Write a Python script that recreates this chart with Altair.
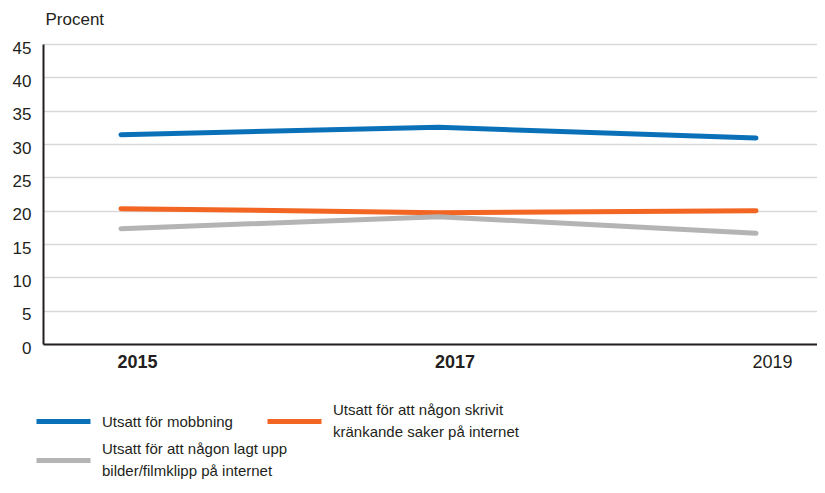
import altair as alt
import pandas as pd

years = [2015, 2017, 2019]
mobbning = [31.4, 32.5, 30.9]
skrivit = [20.3, 19.7, 20.0]
lagt_upp = [17.3, 19.1, 16.6]

series_names = [
    "Utsatt för mobbning",
    "Utsatt för att någon skrivit|kränkande saker på internet",
    "Utsatt för att någon lagt upp|bilder/filmklipp på internet",
]
series_colors = ["#0a71b9", "#f26522", "#b4b4b4"]
y_ticks = [0, 5, 10, 15, 20, 25, 30, 35, 40, 45]

rows = []
for name, vals in zip(series_names, [mobbning, skrivit, lagt_upp]):
    for yr, v in zip(years, vals):
        rows.append({"year": yr, "value": v, "series": name})
df = pd.DataFrame(rows)

FONT = "Liberation Sans"
TXT = "#231f20"

chart = (
    alt.Chart(df)
    .mark_line(strokeWidth=5, strokeCap="round", strokeJoin="round")
    .encode(
        x=alt.X(
            "year:Q",
            scale=alt.Scale(domain=[2014.509, 2019.384], nice=False, zero=False),
            axis=alt.Axis(
                values=years,
                format="d",
                title=None,
                grid=False,
                ticks=False,
                labelFontSize=18,
                labelColor=TXT,
                labelFont=FONT,
                labelOffset=16,
                labelPadding=9,
                labelFlush=False,
                labelFontWeight=alt.expr("datum.value == 2019 ? 'normal' : 'bold'"),
                domainColor=TXT,
                domainWidth=2,
            ),
        ),
        y=alt.Y(
            "value:Q",
            scale=alt.Scale(domain=[0, 45], nice=False),
            axis=alt.Axis(
                values=y_ticks,
                title="Procent",
                titleAngle=0,
                titleAlign="left",
                titleBaseline="middle",
                titleX=2,
                titleY=-25,
                titleFontSize=17,
                titleFontWeight="normal",
                titleColor=TXT,
                titleFont=FONT,
                ticks=False,
                labelFontSize=17,
                labelColor=TXT,
                labelFont=FONT,
                labelPadding=12,
                labelOffset=4,
                labelBaseline="middle",
                gridColor="#d9d9d9",
                gridWidth=1.5,
                domainColor=TXT,
                domainWidth=2,
            ),
        ),
        color=alt.Color(
            "series:N",
            scale=alt.Scale(domain=series_names, range=series_colors),
            sort=series_names,
            legend=alt.Legend(
                title=None,
                orient="none",
                legendX=-9,
                legendY=348,
                direction="horizontal",
                columns=2,
                gridAlign="none",
                columnPadding=-31,
                rowPadding=-9,
                padding=0,
                symbolType="stroke",
                symbolSize=2916,
                symbolStrokeWidth=5,
                labelFontSize=15,
                labelFont=FONT,
                labelColor=TXT,
                labelOffset=9,
                labelLimit=400,
                labelBaseline=alt.expr(
                    "indexof(datum.value, '|') >= 0 ? 'line-bottom' : 'middle'"
                ),
                labelExpr="split(datum.label, '|')",
            ),
        ),
    )
    .properties(
        width=774,
        height=300,
        autosize=alt.AutoSizeParams(type="none"),
        padding={"left": 35, "top": 36, "right": 0, "bottom": 136},
    )
    .configure(font=FONT, style={"guide-label": {"lineHeight": 22}})
    .configure_view(stroke=None)
)

chart.save("out.html", embed_options={"renderer": "svg", "actions": False})
